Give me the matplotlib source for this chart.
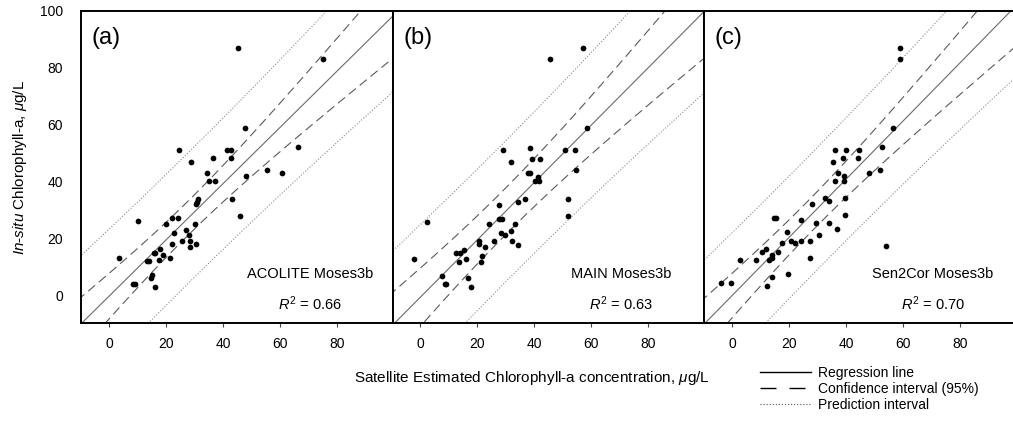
import numpy as np
import matplotlib
matplotlib.use("Agg")
import matplotlib.pyplot as plt
from matplotlib.lines import Line2D

plt.rcParams["font.family"] = ["Liberation Sans", "DejaVu Sans"]
plt.rcParams["mathtext.fontset"] = "custom"
plt.rcParams["mathtext.rm"] = "Liberation Sans"
plt.rcParams["mathtext.it"] = "Liberation Sans:italic"
plt.rcParams["lines.scale_dashes"] = False

# satellite estimated (x) vs in-situ (y) chlorophyll-a
acolite_x = [45.4, 75.0, 47.7, 24.6, 41.5, 42.7, 66.2, 28.9, 36.6, 42.7, 34.3, 35.2,
             37.3, 48.0, 55.3, 60.6, 31.3, 31.0, 30.5, 43.2, 46.0, 10.1, 20.2, 22.2,
             24.1, 30.2, 22.8, 26.9, 28.1, 25.5, 28.5, 30.4, 22.3, 28.5, 18.0, 16.1,
             15.9, 18.8, 21.4, 17.7, 13.2, 14.0, 3.5, 15.0, 14.6, 8.3, 9.0, 16.3]
acolite_y = [87.1, 83.0, 59.0, 51.0, 51.0, 51.0, 52.2, 47.0, 48.1, 48.1, 43.0, 40.0,
             40.0, 42.1, 44.0, 43.0, 33.9, 32.9, 32.1, 33.9, 28.0, 26.0, 25.0, 27.0,
             27.0, 25.0, 22.0, 23.0, 21.0, 19.0, 19.0, 18.1, 18.1, 17.0, 16.1, 15.0,
             14.8, 14.0, 13.1, 12.2, 12.1, 12.1, 13.1, 7.0, 6.1, 4.0, 4.0, 3.0]

main_x = [57.0, 45.3, 58.5, 29.0, 38.4, 50.9, 54.2, 31.7, 39.2, 41.9, 37.7, 38.6,
          41.1, 40.1, 41.5, 54.6, 51.8, 51.8, 36.6, 34.4, 27.5, 2.3, 24.1, 27.5,
          28.5, 33.1, 31.8, 28.2, 29.8, 25.8, 32.0, 34.2, 20.7, 20.7, 22.6, 15.4,
          12.4, 13.8, 16.1, 13.5, 21.5, 21.4, -2.3, 7.7, 8.5, 9.0, 16.7, 17.7]
main_y = [87.1, 83.0, 59.0, 51.0, 51.9, 51.0, 51.0, 46.9, 47.9, 47.9, 42.9, 42.9,
          41.7, 40.0, 40.0, 44.0, 33.9, 27.8, 33.9, 32.8, 31.8, 25.9, 24.9, 26.8,
          26.8, 24.9, 22.7, 21.8, 21.0, 18.9, 18.9, 17.8, 18.9, 17.9, 16.8, 15.8,
          14.9, 14.9, 12.8, 11.7, 13.8, 11.7, 12.8, 6.7, 3.8, 3.8, 5.9, 2.8]

sen2cor_x = [58.8, 58.8, 56.5, 36.1, 40.0, 44.7, 52.7, 35.3, 38.8, 44.2, 37.3, 39.2,
             36.0, 39.2, 48.2, 51.9, 32.6, 34.0, 39.6, 28.1, 39.6, 14.9, 15.6, 24.1,
             29.4, 34.2, 36.8, 19.2, 30.4, 17.7, 20.6, 22.3, 24.1, 27.4, 12.0, 10.4,
             16.0, 13.9, 13.9, 13.0, 3.0, 8.5, 27.3, 54.0, 13.9, 19.8, -3.7, -0.4, 12.2]
sen2cor_y = [86.9, 83.0, 59.0, 51.1, 51.1, 51.1, 52.1, 47.0, 48.1, 48.1, 43.0, 42.1,
             40.2, 40.2, 43.0, 44.1, 34.1, 33.2, 34.1, 32.1, 28.1, 27.2, 27.2, 26.3,
             25.3, 25.3, 23.2, 22.2, 21.2, 18.2, 19.2, 18.2, 19.2, 19.2, 16.3, 15.2,
             15.2, 14.2, 13.1, 12.2, 12.2, 12.2, 13.2, 17.2, 6.3, 7.3, 4.3, 4.3, 3.3]

panel_tags = ["(a)", "(b)", "(c)"]
panel_names = ["ACOLITE Moses3b", "MAIN Moses3b", "Sen2Cor Moses3b"]
r_squared = [0.66, 0.63, 0.70]

# regression line and interval half-widths (hyperbolic bands)
reg_intercept = [-0.4, -0.7, -0.2]
reg_slope = [0.99, 1.01, 1.024]
x_mean = [28.0, 30.0, 28.0]
ci_half = [6.0, 8.2, 6.0]
pi_half = [23.0, 24.8, 21.5]
band_spread = [0.19, 0.205, 0.18]

x_ticks = [0, 20, 40, 60, 80]
y_ticks = [0, 20, 40, 60, 80, 100]
XLIM = (-9.8, 99.5)
YLIM = (-9.8, 100)


def half_width(x, xm, h0, k):
    return np.sqrt(h0 ** 2 + (k * (x - xm)) ** 2)


def draw_panel(ax, xs, ys, i):
    xx = np.linspace(XLIM[0] - 5, XLIM[1] + 5, 300)
    fit = reg_intercept[i] + reg_slope[i] * xx
    ci = half_width(xx, x_mean[i], ci_half[i], band_spread[i])
    pi = half_width(xx, x_mean[i], pi_half[i], band_spread[i])

    ax.plot(xx, fit, color="#6a6a6a", lw=0.8)
    for sign in (1, -1):
        ax.plot(xx, fit + sign * ci, color="#5a5a5a", lw=0.8, ls=(0, (6.5, 3.6)))
        ax.plot(xx, fit + sign * pi, color="#8a8a8a", lw=0.8, ls=(0, (0.8, 1.3)))
    ax.scatter(xs, ys, s=17, color="black", zorder=3, linewidths=0)

    ax.text(0.035, 0.915, panel_tags[i], transform=ax.transAxes, fontsize=17,
            ha="left", va="center")
    ax.text(70.5, 7.5, panel_names[i], fontsize=10.5, ha="center", va="center")
    ax.text(70.5, -3.0, r"$R^2$ = %.2f" % r_squared[i], fontsize=10.5,
            ha="center", va="center")

    ax.set_xlim(*XLIM)
    ax.set_ylim(*YLIM)
    ax.set_xticks(x_ticks)
    ax.set_xticklabels([str(t) for t in x_ticks])
    ax.set_yticks(y_ticks)
    ax.tick_params(axis="x", length=3, width=0.8, color="#444444", labelsize=10, pad=7)
    ax.tick_params(axis="y", length=0, labelsize=10, pad=13)
    for sp in ax.spines.values():
        sp.set_linewidth(1.4)
        sp.set_color("black")


W, H = 1013, 428
fig = plt.figure(figsize=(W / 100, H / 100), dpi=100)

lefts = [81, 392.5, 704]
axes = []
for i, left in enumerate(lefts):
    ax = fig.add_axes([left / W, (H - 323) / H, 311.5 / W, 312 / H])
    axes.append(ax)

series = [(acolite_x, acolite_y), (main_x, main_y), (sen2cor_x, sen2cor_y)]
for i, (ax, (xs, ys)) in enumerate(zip(axes, series)):
    draw_panel(ax, xs, ys, i)
    if i > 0:
        ax.set_yticklabels([])

axes[0].set_ylabel(r"$\it{In}$-$\it{situ}$ Chlorophyll-a, $\mu$g/L", fontsize=11, labelpad=8)
fig.text(532 / W, 1 - 378 / H, r"Satellite Estimated Chlorophyll-a concentration, $\mu$g/L",
         fontsize=11, ha="center", va="center")

handles = [
    Line2D([], [], color="black", lw=1.0),
    Line2D([], [], color="black", lw=1.0, ls=(0, (11.5, 9.4))),
    Line2D([], [], color="#555555", lw=0.8, ls=(0, (0.8, 1.4))),
]
labels = ["Regression line", "Confidence interval (95%)", "Prediction interval"]
fig.legend(handles, labels, loc="upper left", bbox_to_anchor=(760 / W, 1 - 366 / H),
           frameon=False, fontsize=10, handlelength=3.7, handletextpad=0.45,
           labelspacing=0.15, borderpad=0, borderaxespad=0)

fig.savefig("out.png", dpi=100)
